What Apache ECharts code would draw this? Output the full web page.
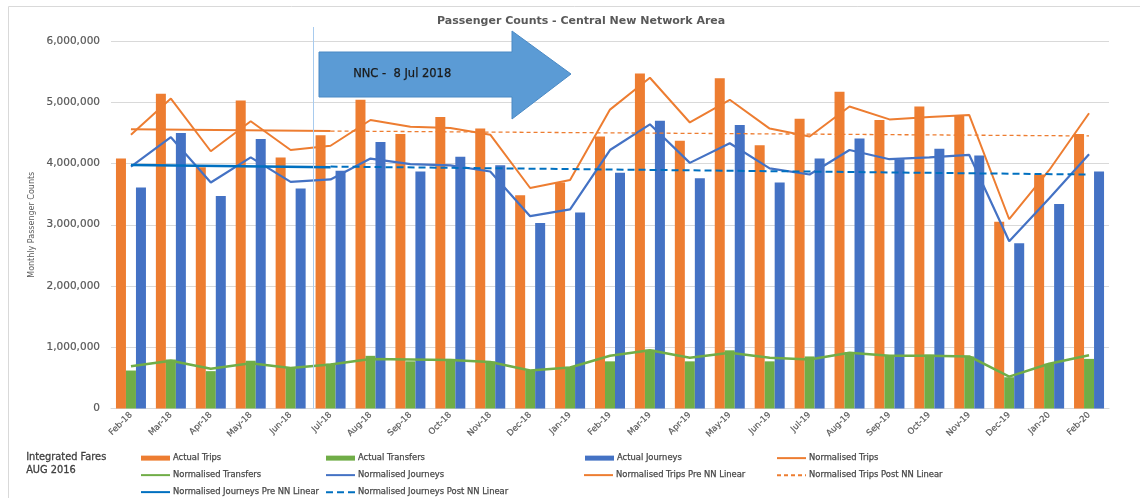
<!DOCTYPE html>
<html>
<head>
<meta charset="utf-8">
<script src="https://cdn.jsdelivr.net/npm/echarts@6/dist/echarts.min.js"></script>
<style>
  html, body { margin: 0; padding: 0; background: #ffffff; }
  #chart { width: 1140px; height: 498px; }
</style>
</head>
<body>
<div id="chart"></div>
<script>
// Months shown on the category axis
const categories = [
  'Feb-18', 'Mar-18', 'Apr-18', 'May-18', 'Jun-18', 'Jul-18', 'Aug-18', 'Sep-18', 'Oct-18',
  'Nov-18', 'Dec-18', 'Jan-19', 'Feb-19', 'Mar-19', 'Apr-19', 'May-19', 'Jun-19', 'Jul-19',
  'Aug-19', 'Sep-19', 'Oct-19', 'Nov-19', 'Dec-19', 'Jan-20', 'Feb-20'
];

// Monthly counts
const actualTrips = [
  4080000, 5140000, 3940000, 5030000, 4100000, 4460000, 5040000, 4480000, 4760000,
  4570000, 3480000, 3690000, 4440000, 5470000, 4370000, 5390000, 4300000, 4730000,
  5170000, 4710000, 4930000, 4780000, 3050000, 3820000, 4480000
];
const actualTransfers = [
  620000, 800000, 610000, 780000, 660000, 730000, 860000, 770000, 810000,
  770000, 620000, 680000, 770000, 960000, 770000, 950000, 770000, 850000,
  920000, 870000, 880000, 850000, 510000, 730000, 810000
];
const actualJourneys = [
  3610000, 4500000, 3470000, 4400000, 3590000, 3880000, 4350000, 3870000, 4110000,
  3970000, 3030000, 3200000, 3850000, 4700000, 3760000, 4630000, 3690000, 4080000,
  4410000, 4070000, 4240000, 4130000, 2700000, 3340000, 3870000
];
const normalisedTrips = [
  4470000, 5060000, 4200000, 4690000, 4220000, 4290000, 4710000, 4600000, 4580000,
  4470000, 3600000, 3730000, 4880000, 5400000, 4670000, 5040000, 4570000, 4440000,
  4930000, 4720000, 4760000, 4790000, 3090000, 3890000, 4820000
];
const normalisedTransfers = [
  690000, 780000, 650000, 740000, 660000, 720000, 810000, 800000, 790000,
  760000, 620000, 670000, 860000, 950000, 830000, 910000, 830000, 800000,
  910000, 860000, 860000, 850000, 520000, 730000, 870000
];
const normalisedJourneys = [
  3950000, 4430000, 3690000, 4100000, 3700000, 3740000, 4080000, 3990000, 3970000,
  3870000, 3140000, 3250000, 4220000, 4640000, 4010000, 4330000, 3920000, 3820000,
  4220000, 4070000, 4100000, 4140000, 2730000, 3430000, 4150000
];

// Linear trend lines: start and end points before / after the new network
const tripsPreNN = [['Feb-18', 4560000], ['Jul-18', 4530000]];
const tripsPostNN = [['Jul-18', 4530000], ['Feb-20', 4450000]];
const journeysPreNN = [['Feb-18', 3975000], ['Jul-18', 3940000]];
const journeysPostNN = [['Jul-18', 3950000], ['Feb-20', 3820000]];

// Value axis ticks
const yTicks = { min: 0, max: 6000000, interval: 1000000 };

const FONT = 'DejaVu Sans';
const TEXT = '#595959';
const ORANGE = '#ed7d31';
const GREEN = '#70ad47';
const BLUE = '#4472c4';
const TREND_BLUE = '#0070c0';

const chart = echarts.init(document.getElementById('chart'), null, { renderer: 'canvas' });

// Legend entries laid out in columns under the chart
const legendSlots = [
  { name: 'Actual Trips', left: 141, top: 454, bar: true },
  { name: 'Actual Transfers', left: 326, top: 454, bar: true },
  { name: 'Actual Journeys', left: 585, top: 454, bar: true },
  { name: 'Normalised Trips', left: 776, top: 454 },
  { name: 'Normalised Transfers', left: 140, top: 471 },
  { name: 'Normalised Journeys', left: 325, top: 471 },
  { name: 'Normalised Trips Pre NN Linear', left: 583, top: 471 },
  { name: 'Normalised Trips Post NN Linear', left: 776, top: 471 },
  { name: 'Normalised Journeys Pre NN Linear', left: 140, top: 488 },
  { name: 'Normalised Journeys Post NN Linear', left: 325, top: 488 }
];

const legends = legendSlots.map(s => ({
  show: true,
  left: s.left,
  top: s.top,
  padding: 0,
  itemWidth: 29,
  itemHeight: 5,
  itemGap: 0,
  selectedMode: false,
  textStyle: {
    fontFamily: FONT, fontSize: 8.4, color: '#474747',
    textBorderColor: '#474747', textBorderWidth: 0.25, padding: [0, 0, 0, -2]
  },
  data: [s.bar
    ? { name: s.name, icon: 'rect' }
    : { name: s.name, itemStyle: { color: 'rgba(0,0,0,0)', borderWidth: 0, opacity: 0 } }]
}));

function barSeries(name, data, color) {
  return {
    name, type: 'bar', data, barWidth: 10, barGap: '0%',
    itemStyle: { color }, z: 2
  };
}
function lineSeries(name, data, color, width, type, z) {
  return {
    name, type: 'line', data, symbol: 'none', showSymbol: false,
    lineStyle: { color, width, type: type || 'solid' },
    itemStyle: { color }, z: z || 4, animation: false
  };
}

chart.setOption({
  animation: false,
  textStyle: { fontFamily: FONT },
  title: {
    text: 'Passenger Counts - Central New Network Area',
    left: 437, top: 16, padding: 0,
    textStyle: { fontFamily: FONT, fontSize: 11, fontWeight: 'bold', color: TEXT }
  },
  legend: legends,
  grid: { left: 111, right: 31, top: 41, bottom: 89.5, containLabel: false },
  xAxis: {
    type: 'category',
    data: categories,
    axisLine: { lineStyle: { color: '#d9d9d9', width: 1 } },
    axisTick: { show: false },
    axisLabel: {
      interval: 0, rotate: 45, fontFamily: FONT, fontSize: 8.5, color: TEXT,
      textBorderColor: TEXT, textBorderWidth: 0.2, margin: 5
    }
  },
  yAxis: {
    type: 'value',
    min: yTicks.min, max: yTicks.max, interval: yTicks.interval,
    name: 'Monthly Passenger Counts',
    nameLocation: 'middle', nameGap: 63,
    nameTextStyle: { fontFamily: FONT, fontSize: 8, color: TEXT },
    axisLine: { show: false },
    axisTick: { show: false },
    splitLine: { lineStyle: { color: '#d9d9d9', width: 1 } },
    axisLabel: {
      fontFamily: FONT, fontSize: 10.5, color: TEXT, margin: 11,
      textBorderColor: TEXT, textBorderWidth: 0.2,
      formatter: v => v.toLocaleString('en-US')
    }
  },
  series: [
    barSeries('Actual Trips', actualTrips, ORANGE),
    barSeries('Actual Transfers', actualTransfers, GREEN),
    barSeries('Actual Journeys', actualJourneys, BLUE),
    lineSeries('Normalised Trips', normalisedTrips, ORANGE, 2),
    lineSeries('Normalised Transfers', normalisedTransfers, GREEN, 2.5),
    lineSeries('Normalised Journeys', normalisedJourneys, BLUE, 2.2),
    lineSeries('Normalised Trips Pre NN Linear', tripsPreNN, ORANGE, 2),
    lineSeries('Normalised Trips Post NN Linear', tripsPostNN, ORANGE, 1.3, [4, 3]),
    lineSeries('Normalised Journeys Pre NN Linear', journeysPreNN, TREND_BLUE, 2.5),
    lineSeries('Normalised Journeys Post NN Linear', journeysPostNN, TREND_BLUE, 2, [7, 4])
  ]
});

// Annotations: network change marker, arrow callout, frame and side caption
const markerX = Math.round(chart.convertToPixel({ xAxisIndex: 0 }, 'Jul-18') - 18) + 0.5;
const axisTop = chart.convertToPixel({ yAxisIndex: 0 }, yTicks.max);
const axisBottom = chart.convertToPixel({ yAxisIndex: 0 }, 0);

chart.setOption({
  graphic: [
    { type: 'line', shape: { x1: 8.5, y1: 6.5, x2: 1140, y2: 6.5 }, style: { stroke: '#d9d9d9', lineWidth: 1 }, silent: true },
    { type: 'line', shape: { x1: 8.5, y1: 6.5, x2: 8.5, y2: 498 }, style: { stroke: '#d9d9d9', lineWidth: 1 }, silent: true },
    {
      type: 'line', z: 5,
      shape: { x1: markerX, y1: axisTop - 14, x2: markerX, y2: axisBottom },
      style: { stroke: '#a8cbee', lineWidth: 1 }, silent: true
    },
    {
      type: 'polygon', z: 10,
      shape: { points: [[319, 52], [512, 52], [512, 31], [571, 74], [512, 119], [512, 97], [319, 97]] },
      style: { fill: '#5b9bd5', stroke: '#4a89c4', lineWidth: 1 }, silent: true
    },
    {
      type: 'text', z: 11, left: 353, top: 68,
      style: {
        text: 'NNC -  8 Jul 2018', fontFamily: FONT, fontSize: 11.5, fill: '#1a1a1a',
        stroke: '#1a1a1a', lineWidth: 0.25
      },
      silent: true
    },
    {
      type: 'text', z: 11, left: 26, top: 451,
      style: {
        text: 'Integrated Fares\nAUG 2016', fontFamily: FONT, fontSize: 9.8,
        lineHeight: 13, fill: '#404040', stroke: '#404040', lineWidth: 0.3
      },
      silent: true
    }
  ]
});
</script>
</body>
</html>
